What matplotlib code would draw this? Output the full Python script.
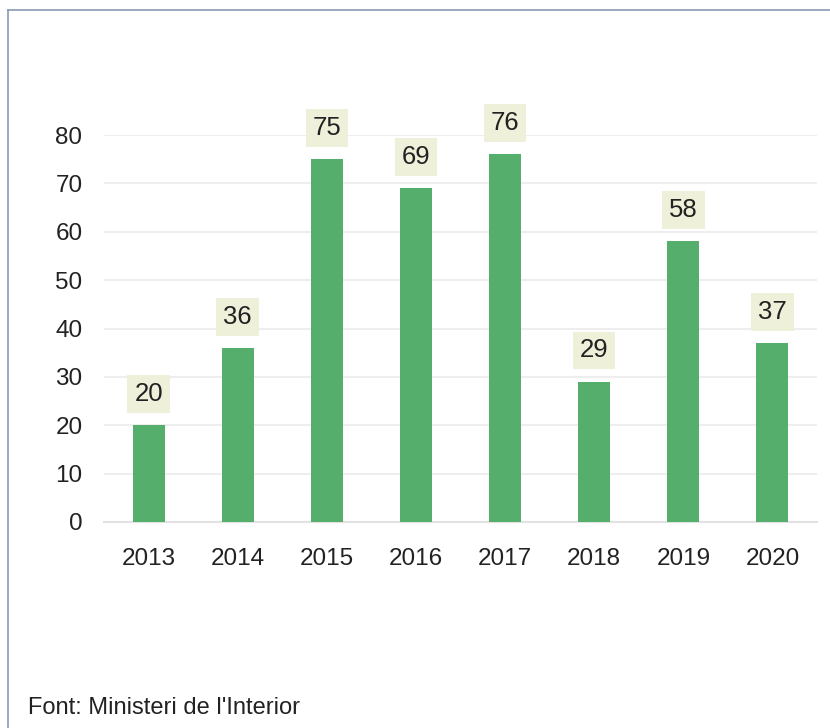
import matplotlib.pyplot as plt

plt.rcParams['font.family'] = ['Liberation Sans', 'DejaVu Sans']

years = ['2013', '2014', '2015', '2016', '2017', '2018', '2019', '2020']
values = [20, 36, 75, 69, 76, 29, 58, 37]
y_ticks = [0, 10, 20, 30, 40, 50, 60, 70, 80]
source = "Font: Ministeri de l'Interior"

W, H = 830, 728
fig = plt.figure(figsize=(W / 100, H / 100), dpi=100)
ax = fig.add_axes([104 / W, 1 - 522 / H, (817 - 104) / W, (522 - 135) / H])

# thin frame around the panel (top and left edges only are visible)
fig.add_artist(plt.Line2D([8 / W, 8 / W], [0, 1 - 10 / H], color='#8a9bb5', lw=1.2,
                          transform=fig.transFigure))
fig.add_artist(plt.Line2D([8 / W, 1], [1 - 10 / H, 1 - 10 / H], color='#8a9bb5', lw=1.2,
                          transform=fig.transFigure))

x = range(len(years))
ax.bar(x, values, width=0.36, color='#56ae6d', zorder=3)

for xi, v in zip(x, values):
    ax.annotate(str(v), (xi, v), xytext=(0, 22.5), textcoords='offset points',
                ha='center', va='center', fontsize=18.5, color='#222222',
                bbox=dict(boxstyle='square,pad=0.27', fc='#eef0da', ec='none'),
                annotation_clip=False, zorder=4)

ax.set_xlim(-0.5, len(years) - 0.5)
ax.set_ylim(0, 80)
ax.set_yticks(y_ticks)
ax.set_xticks(list(x))
ax.set_xticklabels(years)
ax.tick_params(axis='both', length=0, labelsize=17.5, colors='#222222')
ax.tick_params(axis='y', pad=15.5)
ax.tick_params(axis='x', pad=18.5)
ax.grid(axis='y', color='#eeeeee', lw=1.5, zorder=0)
for s in ['top', 'right', 'left']:
    ax.spines[s].set_visible(False)
ax.spines['bottom'].set_color('#e2e2e2')
ax.spines['bottom'].set_linewidth(1.5)

fig.text(28 / W, 1 - 708 / H, source, fontsize=17, color='#222222', va='center', ha='left')

fig.savefig('out.png', dpi=100, facecolor='white')
